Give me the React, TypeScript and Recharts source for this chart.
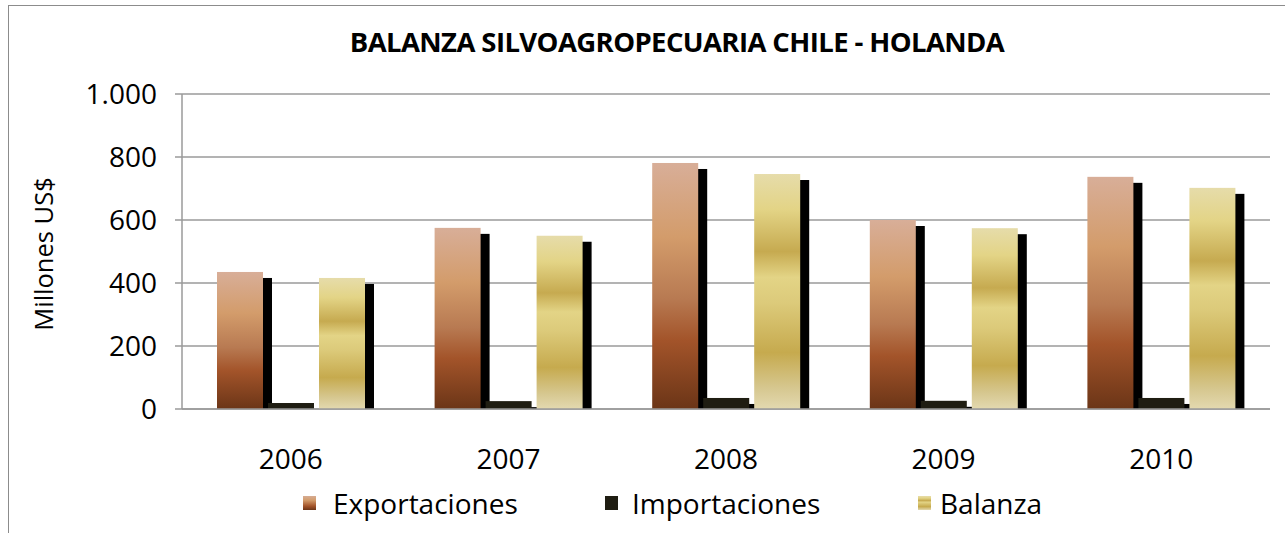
import React from 'react';
import { BarChart, Bar, XAxis, YAxis, CartesianGrid } from 'recharts';

const years = ['2006', '2007', '2008', '2009', '2010'];
const exportaciones = [435, 575, 781, 600, 737];
const importaciones = [19, 25, 35, 26, 35];
const balanza = [416, 550, 746, 574, 702];
const yTicks = [0, 200, 400, 600, 800, 1000];

const data = years.map((year, i) => ({
  year,
  exportaciones: exportaciones[i],
  importaciones: importaciones[i],
  balanza: balanza[i],
}));

const FONT = '"Open Sans", sans-serif';

// bar with a flat black shadow to the right (Excel 3D-ish look)
const ShadowBar = (props: any) => {
  const { x, y, width, height, fill } = props;
  if (!height || height <= 0) return null;
  const dx = 9;
  const dy = 6;
  return (
    <g>
      {height > dy && <rect x={x + dx} y={y + dy} width={width} height={height - dy} fill="#000" />}
      <rect x={x} y={y} width={width} height={height} fill={fill} />
    </g>
  );
};

const fmt = (v: number) => (v >= 1000 ? `${Math.floor(v / 1000)}.${String(v % 1000).padStart(3, '0')}` : `${v}`);

const legendItems = [
  { label: 'Exportaciones', fill: 'linear-gradient(#d6ac94, #d39c6b 30%, #a3542a 72%, #6b3517)', left: 303, textLeft: 333 },
  { label: 'Importaciones', fill: '#1f1d12', left: 605, textLeft: 632 },
  { label: 'Balanza', fill: 'linear-gradient(#e6dcaa, #e3d486 15%, #c6aa50 33%, #e3d486 44%, #c6aa4e 76%, #e3d9b0)', left: 918, textLeft: 940 },
];

export default function App() {
  return (
    <div style={{ position: 'absolute', left: 0, top: 0, width: 1285, height: 533, background: '#fff' }}>
      <div
        style={{
          position: 'absolute',
          left: 8,
          top: 5,
          width: 1276,
          height: 527,
          borderLeft: '1.5px solid #8c8c8c',
          borderTop: '1.5px solid #8c8c8c',
        }}
      />
      <div
        style={{
          position: 'absolute',
          left: 327,
          top: 23,
          width: 700,
          textAlign: 'center',
          fontFamily: FONT,
          fontWeight: 700,
          fontSize: 27.5,
          lineHeight: '38px',
          letterSpacing: -0.6,
          whiteSpace: 'nowrap',
          color: '#000',
        }}
      >
        BALANZA SILVOAGROPECUARIA CHILE - HOLANDA
      </div>
      <div
        style={{
          position: 'absolute',
          left: 43,
          top: 254,
          transform: 'translate(-50%, -50%) rotate(-90deg)',
          fontFamily: FONT,
          fontSize: 25.5,
          whiteSpace: 'nowrap',
          color: '#000',
        }}
      >
        Millones US$
      </div>
      <div style={{ position: 'absolute', left: 0, top: 0 }}>
        <BarChart
          width={1285}
          height={533}
          data={data}
          margin={{ top: 94, right: 15, bottom: 74, left: 0 }}
          barSize={46}
          barGap={5}
        >
          <defs>
            <linearGradient id="gradExp" x1="0" y1="0" x2="0" y2="1">
              <stop offset="0" stopColor="#d8ae98" />
              <stop offset="0.3" stopColor="#d39c6b" />
              <stop offset="0.55" stopColor="#b87a52" />
              <stop offset="0.72" stopColor="#a3542a" />
              <stop offset="1" stopColor="#6b3517" />
            </linearGradient>
            <linearGradient id="gradBal" x1="0" y1="0" x2="0" y2="1">
              <stop offset="0" stopColor="#e6dcaa" />
              <stop offset="0.15" stopColor="#e3d486" />
              <stop offset="0.33" stopColor="#c6aa50" />
              <stop offset="0.44" stopColor="#e3d486" />
              <stop offset="0.55" stopColor="#dcca7a" />
              <stop offset="0.76" stopColor="#c6aa4e" />
              <stop offset="0.91" stopColor="#d6c78f" />
              <stop offset="1" stopColor="#e3d9b0" />
            </linearGradient>
          </defs>
          <CartesianGrid vertical={false} stroke="#9a9a9a" strokeWidth={1.5} />
          <XAxis
            dataKey="year"
            axisLine={{ stroke: '#9a9a9a', strokeWidth: 1.5 }}
            tickLine={false}
            tickSize={0}
            tickMargin={40}
            height={50}
            tick={{ fontFamily: FONT, fontSize: 28, fill: '#000' }}
          />
          <YAxis
            domain={[0, 1000]}
            ticks={yTicks}
            width={182}
            tickFormatter={fmt}
            axisLine={{ stroke: '#9a9a9a', strokeWidth: 1.5 }}
            tickLine={{ stroke: '#9a9a9a', strokeWidth: 1.5 }}
            tickSize={7}
            tickMargin={18}
            tick={{ fontFamily: FONT, fontSize: 28, fill: '#000' }}
          />
          <Bar dataKey="exportaciones" name="Exportaciones" fill="url(#gradExp)" shape={ShadowBar} isAnimationActive={false} />
          <Bar dataKey="importaciones" name="Importaciones" fill="#1f1d12" shape={ShadowBar} isAnimationActive={false} />
          <Bar dataKey="balanza" name="Balanza" fill="url(#gradBal)" shape={ShadowBar} isAnimationActive={false} />
        </BarChart>
      </div>
      {legendItems.map((item) => (
        <React.Fragment key={item.label}>
          <div
            style={{ position: 'absolute', left: item.left, top: 496, width: 13, height: 14, background: item.fill }}
          />
          <div
            style={{
              position: 'absolute',
              left: item.textLeft,
              top: 484,
              fontFamily: FONT,
              fontSize: 28,
              lineHeight: '38px',
              color: '#000',
              whiteSpace: 'nowrap',
            }}
          >
            {item.label}
          </div>
        </React.Fragment>
      ))}
    </div>
  );
}
